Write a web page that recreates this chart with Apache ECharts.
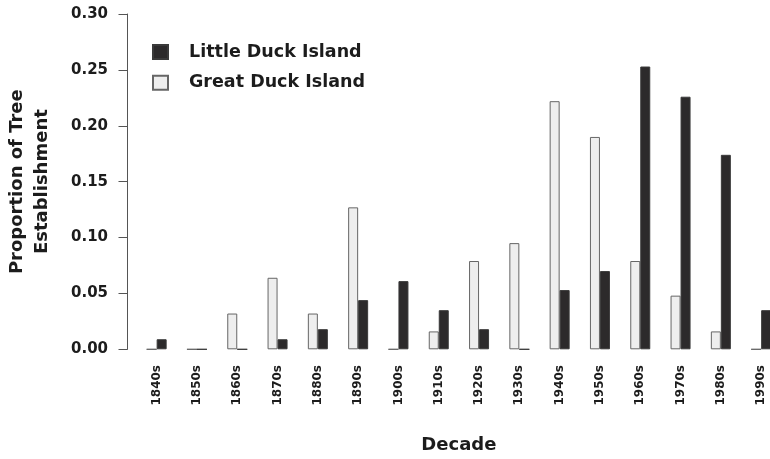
<!DOCTYPE html>
<html>
<head>
<meta charset="utf-8">
<script src="https://cdn.jsdelivr.net/npm/echarts@6/dist/echarts.min.js"></script>
<style>html,body{margin:0;padding:0;background:#fff}#c{width:770px;height:459px}</style>
</head>
<body>
<div id="c"></div>
<script>
var decades = ['1840s','1850s','1860s','1870s','1880s','1890s','1900s','1910s','1920s','1930s','1940s','1950s','1960s','1970s','1980s','1990s'];
var greatDuck = [0, 0, 0.032, 0.064, 0.032, 0.127, 0, 0.016, 0.079, 0.095, 0.222, 0.190, 0.079, 0.048, 0.016, 0];
var littleDuck = [0.009, 0, 0, 0.009, 0.018, 0.044, 0.061, 0.035, 0.018, 0, 0.053, 0.070, 0.253, 0.226, 0.174, 0.035];
var yTicks = [0, 0.05, 0.10, 0.15, 0.20, 0.25, 0.30];

var FONT = 'DejaVu Sans';
var TXT = '#1c1c1c';
var chart = echarts.init(document.getElementById('c'), null, {renderer: 'canvas'});
chart.setOption({
  animation: false,
  backgroundColor: '#ffffff',
  grid: {left: 136.5, right: -11.3, top: 14, bottom: 109.7, containLabel: false, outerBoundsMode: 'none'},
  legend: {
    orient: 'vertical', left: 152, top: 43, padding: 0,
    itemWidth: 15, itemHeight: 14, itemGap: 12.7,
    icon: 'rect',
    data: ['Little Duck Island', 'Great Duck Island'],
    textStyle: {fontFamily: FONT, fontWeight: 'bold', fontSize: 17.5, color: TXT, lineHeight: 14, padding: [0,0,0,16]}
  },
  xAxis: {
    type: 'category', data: decades,
    axisLine: {show: false}, axisTick: {show: false},
    axisLabel: {rotate: 90, margin: 15.7, interval: 0, fontFamily: FONT, fontWeight: 'bold', fontSize: 12, color: TXT},
    name: 'Decade', nameLocation: 'middle', nameGap: 87,
    nameTextStyle: {fontFamily: FONT, fontWeight: 'bold', fontSize: 18, color: TXT}
  },
  yAxis: {
    type: 'value', min: yTicks[0], max: yTicks[yTicks.length - 1], interval: 0.05, offset: 9,
    splitLine: {show: false},
    axisLine: {show: true, lineStyle: {color: '#555', width: 1}},
    axisTick: {show: true, length: 9, lineStyle: {color: '#555', width: 1}},
    axisLabel: {margin: 19.5, fontFamily: FONT, fontWeight: 'bold', fontSize: 15, color: TXT,
      formatter: function (v) { return v.toFixed(2); }},
    name: 'Proportion of Tree\nEstablishment', nameLocation: 'middle', nameRotate: 90, nameGap: 73,
    nameTextStyle: {fontFamily: FONT, fontWeight: 'bold', fontSize: 18, lineHeight: 25, color: TXT}
  },
  series: [
    {name: 'Great Duck Island', type: 'bar', data: greatDuck, barWidth: 10, barGap: '0%',
      itemStyle: {color: '#eeeeee', borderColor: '#666', borderWidth: 1}},
    {name: 'Little Duck Island', type: 'bar', data: littleDuck, barWidth: 10, barGap: '0%',
      itemStyle: {color: '#2c2a2b', borderColor: '#3a3a3a', borderWidth: 1}}
  ]
});
</script>
</body>
</html>
